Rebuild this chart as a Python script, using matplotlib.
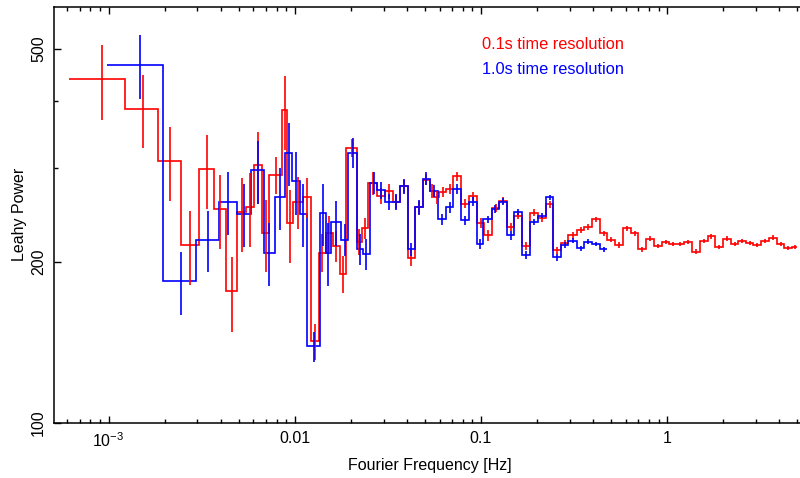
import matplotlib
matplotlib.use('Agg')
import matplotlib.pyplot as plt
import matplotlib.ticker as ticker
import numpy as np

plt.rcParams['font.family'] = ['Liberation Sans', 'DejaVu Sans']
plt.rcParams['mathtext.fontset'] = 'custom'
plt.rcParams['mathtext.rm'] = 'Liberation Sans'
plt.rcParams['mathtext.it'] = 'Liberation Sans:italic'

# 0.1 s time resolution: bin edges [Hz], Leahy power, 1-sigma error
red_edges = [6.14e-4, 1.226e-3, 1.837e-3, 2.452e-3, 3.051e-3, 3.673e-3, 4.260e-3, 4.898e-3, 5.475e-3, 6.045e-3,
             6.699e-3, 7.304e-3, 8.547e-3, 9.127e-3, 9.757e-3, 1.104e-2, 1.224e-2, 1.346e-2, 1.473e-2, 1.600e-2,
             1.751e-2, 1.886e-2, 2.153e-2, 2.290e-2, 2.485e-2, 2.777e-2, 3.055e-2, 3.360e-2, 3.678e-2, 4.045e-2,
             4.428e-2, 4.868e-2, 5.329e-2, 5.620e-2, 5.979e-2, 6.496e-2, 7.109e-2, 7.790e-2, 8.631e-2, 9.565e-2,
             0.1045, 0.1151, 0.1251, 0.1376, 0.1511, 0.1669, 0.1835, 0.2034, 0.2228, 0.2448,
             0.2693, 0.2947, 0.3269, 0.3592, 0.3966, 0.4362, 0.4775, 0.5252, 0.5775, 0.6376,
             0.7003, 0.7702, 0.8503, 0.9354, 1.028, 1.126, 1.232, 1.355, 1.502, 1.652,
             1.808, 1.989, 2.196, 2.413, 2.643, 2.904, 3.206, 3.526, 3.878, 4.261,
             4.669, 5.0]
red_power = [439, 387, 309, 215, 298, 251, 176, 248, 253, 303,
             226, 291, 384, 236, 259, 264, 142, 208, 226, 214,
             190, 327, 218, 231, 281, 266, 271, 259, 277, 203,
             253, 285, 271, 264, 270, 274, 289, 257, 265, 236,
             224, 252, 260, 232, 244, 214, 247, 241, 256, 210,
             217, 224, 229, 232, 240, 226, 220, 215, 231, 226,
             211, 221, 214, 218, 216, 216, 218, 209, 219, 223,
             213, 221, 216, 219, 217, 215, 219, 222, 216, 212,
             213]
red_err = [70, 61, 49, 34, 47, 40, 28, 39, 40, 46,
           35, 23, 61, 37, 29, 23, 11, 17, 18, 14,
           15, 13, 12, 10, 14, 9, 9, 8, 8, 7,
           7, 7, 8, 7, 6, 6, 6, 5, 5, 5,
           5, 4, 4, 4, 4, 3.5, 3.5, 3.5, 3.5, 3,
           3, 3, 3, 3, 3, 2.5, 2.5, 2.5, 2.5, 2.5,
           2.5, 2.5, 2, 2, 2, 2, 2, 2, 2, 2,
           2, 2, 2, 2, 2, 2, 2, 2, 2, 2,
           2]

# 1.0 s time resolution
blue_edges = [9.85e-4, 1.969e-3, 2.940e-3, 3.921e-3, 4.881e-3, 5.847e-3, 6.815e-3, 7.809e-3, 8.838e-3, 9.707e-3,
              1.068e-2, 1.160e-2, 1.367e-2, 1.467e-2, 1.561e-2, 1.766e-2, 1.941e-2, 2.153e-2, 2.319e-2, 2.538e-2,
              2.777e-2, 3.055e-2, 3.360e-2, 3.678e-2, 4.045e-2, 4.428e-2, 4.868e-2, 5.329e-2, 5.905e-2, 6.496e-2,
              7.109e-2, 7.790e-2, 8.631e-2, 9.494e-2, 0.1030, 0.1143, 0.1251, 0.1376, 0.1511, 0.1669,
              0.1835, 0.2019, 0.2228, 0.2448, 0.2683, 0.2947, 0.3269, 0.3592, 0.3966, 0.4362,
              0.478]
blue_power = [467, 184, 220, 259, 246, 297, 208, 264, 320, 283,
              246, 139, 247, 208, 237, 220, 320, 211, 207, 281,
              272, 259, 259, 277, 211, 253, 286, 271, 240, 253,
              274, 239, 259, 216, 240, 251, 259, 224, 248, 206,
              237, 244, 264, 204, 215, 219, 212, 218, 216, 211]
blue_err = [63, 25, 29, 35, 33, 40, 28, 35, 43, 38,
            33, 9, 33, 28, 23, 15, 21, 14, 14, 13,
            10, 9, 9, 9, 6, 8, 8, 7, 6, 6,
            6, 5, 5, 5, 4, 4, 4, 4, 3.5, 3.5,
            3, 3, 3, 3, 2.5, 2.5, 2.5, 2.5, 2, 2]

x_ticks = [1e-3, 1e-2, 1e-1, 1]
x_labels = ['$10^{-3}$', '0.01', '0.1', '1']
y_ticks = [100, 200, 500]
y_minor = [300, 400]


def draw_spectrum(ax, edges, power, err, color):
    edges = np.array(edges)
    centers = 0.5 * (edges[:-1] + edges[1:])
    ax.stairs(power, edges, baseline=None, color=color, lw=1.2)
    ax.errorbar(centers, power, yerr=err, fmt='none', ecolor=color, elinewidth=1.2, capsize=0)


fig = plt.figure(figsize=(8, 4.78), dpi=100)
# right spine sits just past the image edge, as in the original
ax = fig.add_axes([0.0679, 0.1157, 0.9396, 0.8703])

draw_spectrum(ax, red_edges, red_power, red_err, '#ff0000')
draw_spectrum(ax, blue_edges, blue_power, blue_err, '#0000ff')

ax.set_xscale('log')
ax.set_yscale('log')
ax.set_xlim(5.115e-4, 5.57)
ax.set_ylim(100, 600)

ax.xaxis.set_major_locator(ticker.FixedLocator(x_ticks))
ax.xaxis.set_major_formatter(ticker.FixedFormatter(x_labels))
ax.xaxis.set_minor_locator(ticker.LogLocator(base=10, subs=np.arange(2, 10)))
ax.xaxis.set_minor_formatter(ticker.NullFormatter())
ax.yaxis.set_major_locator(ticker.FixedLocator(y_ticks))
ax.yaxis.set_major_formatter(ticker.FixedFormatter([str(t) for t in y_ticks]))
ax.yaxis.set_minor_locator(ticker.FixedLocator(y_minor))
ax.yaxis.set_minor_formatter(ticker.NullFormatter())

ax.tick_params(which='both', direction='in', top=True, right=False, width=1.0,
               labelsize=11.5, pad=6)
ax.tick_params(which='major', length=5)
ax.tick_params(which='minor', length=3)
for lbl in ax.get_yticklabels():
    lbl.set_rotation(90)
    lbl.set_va('center')
for sp in ax.spines.values():
    sp.set_linewidth(1.1)

ax.set_xlabel('Fourier Frequency [Hz]', fontsize=11.5, labelpad=6)
ax.set_ylabel('Leahy Power', fontsize=11.5, labelpad=3)

fig.text(481.7 / 800, (478 - 49) / 478, '0.1s time resolution', color='#ff0000', fontsize=11.8)
fig.text(481.7 / 800, (478 - 74.3) / 478, '1.0s time resolution', color='#0000ff', fontsize=11.8)

fig.savefig('out.png', dpi=100)
